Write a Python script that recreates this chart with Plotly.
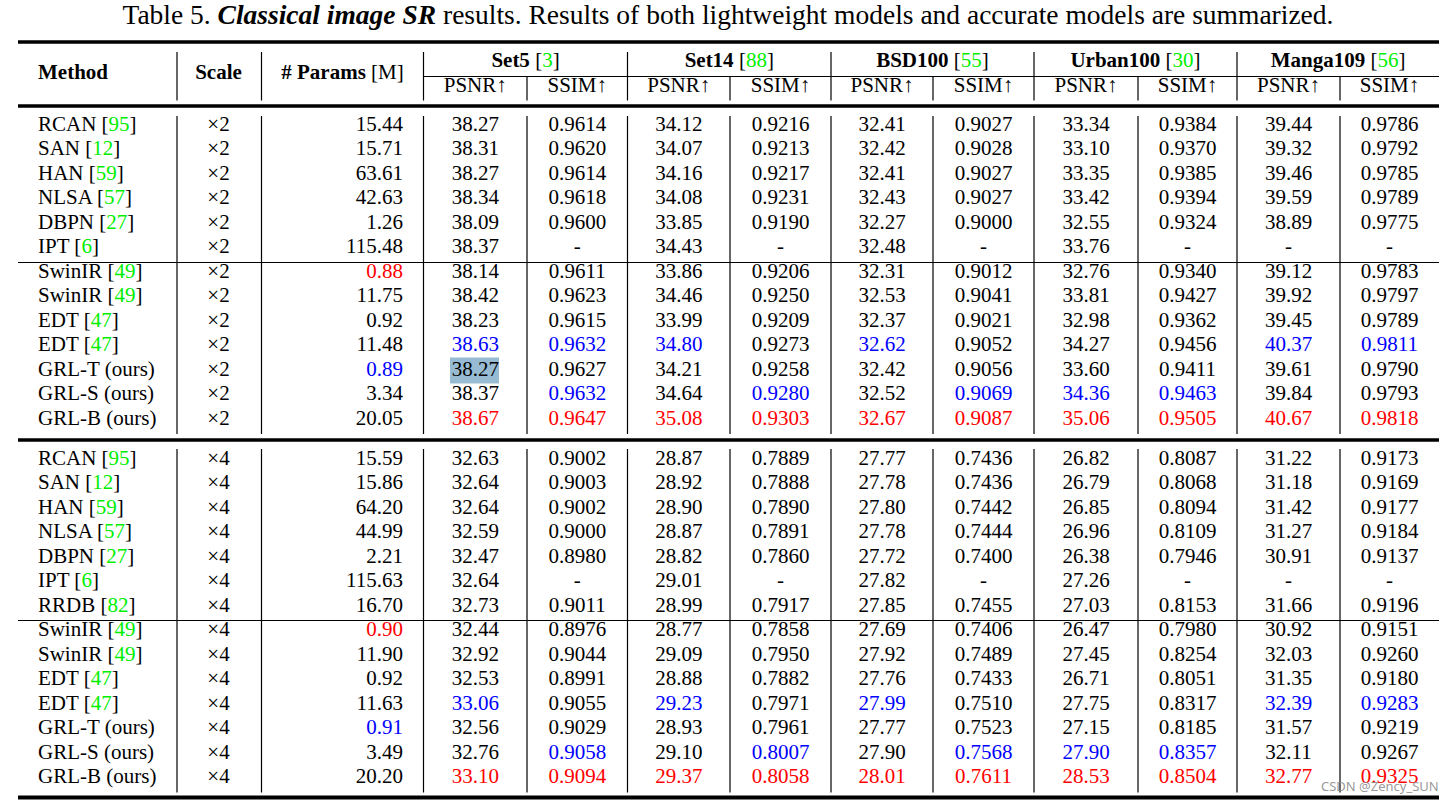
import plotly.graph_objects as go

# ---------------- data ----------------
caption = ("Table 5. <b><i>Classical image SR</i></b> results. Results of both lightweight "
           "models and accurate models are summarized.")
datasets = ["Set5", "Set14", "BSD100", "Urban100", "Manga109"]
dataset_refs = ["3", "88", "55", "30", "56"]
metrics = ["PSNR↑", "SSIM↑"]

methods_x2 = ["RCAN", "SAN", "HAN", "NLSA", "DBPN", "IPT", "SwinIR", "SwinIR", "EDT", "EDT",
              "GRL-T (ours)", "GRL-S (ours)", "GRL-B (ours)"]
refs_x2 = ["95", "12", "59", "57", "27", "6", "49", "49", "47", "47", "", "", ""]
params_x2 = ["15.44", "15.71", "63.61", "42.63", "1.26", "115.48", "0.88", "11.75", "0.92",
             "11.48", "0.89", "3.34", "20.05"]
scores_x2 = [
    ["38.27", "0.9614", "34.12", "0.9216", "32.41", "0.9027", "33.34", "0.9384", "39.44", "0.9786"],
    ["38.31", "0.9620", "34.07", "0.9213", "32.42", "0.9028", "33.10", "0.9370", "39.32", "0.9792"],
    ["38.27", "0.9614", "34.16", "0.9217", "32.41", "0.9027", "33.35", "0.9385", "39.46", "0.9785"],
    ["38.34", "0.9618", "34.08", "0.9231", "32.43", "0.9027", "33.42", "0.9394", "39.59", "0.9789"],
    ["38.09", "0.9600", "33.85", "0.9190", "32.27", "0.9000", "32.55", "0.9324", "38.89", "0.9775"],
    ["38.37", "-", "34.43", "-", "32.48", "-", "33.76", "-", "-", "-"],
    ["38.14", "0.9611", "33.86", "0.9206", "32.31", "0.9012", "32.76", "0.9340", "39.12", "0.9783"],
    ["38.42", "0.9623", "34.46", "0.9250", "32.53", "0.9041", "33.81", "0.9427", "39.92", "0.9797"],
    ["38.23", "0.9615", "33.99", "0.9209", "32.37", "0.9021", "32.98", "0.9362", "39.45", "0.9789"],
    ["38.63", "0.9632", "34.80", "0.9273", "32.62", "0.9052", "34.27", "0.9456", "40.37", "0.9811"],
    ["38.27", "0.9627", "34.21", "0.9258", "32.42", "0.9056", "33.60", "0.9411", "39.61", "0.9790"],
    ["38.37", "0.9632", "34.64", "0.9280", "32.52", "0.9069", "34.36", "0.9463", "39.84", "0.9793"],
    ["38.67", "0.9647", "35.08", "0.9303", "32.67", "0.9087", "35.06", "0.9505", "40.67", "0.9818"],
]
# colour codes: params + 10 scores (k black, r red/best, b blue/second)
colors_x2 = ["kkkkkkkkkkk", "kkkkkkkkkkk", "kkkkkkkkkkk", "kkkkkkkkkkk", "kkkkkkkkkkk",
             "kkkkkkkkkkk", "rkkkkkkkkkk", "kkkkkkkkkkk", "kkkkkkkkkkk", "kbbbkbkkkbb",
             "bkkkkkkkkkk", "kkbkbkbbbkk", "krrrrrrrrrr"]

methods_x4 = ["RCAN", "SAN", "HAN", "NLSA", "DBPN", "IPT", "RRDB", "SwinIR", "SwinIR", "EDT",
              "EDT", "GRL-T (ours)", "GRL-S (ours)", "GRL-B (ours)"]
refs_x4 = ["95", "12", "59", "57", "27", "6", "82", "49", "49", "47", "47", "", "", ""]
params_x4 = ["15.59", "15.86", "64.20", "44.99", "2.21", "115.63", "16.70", "0.90", "11.90",
             "0.92", "11.63", "0.91", "3.49", "20.20"]
scores_x4 = [
    ["32.63", "0.9002", "28.87", "0.7889", "27.77", "0.7436", "26.82", "0.8087", "31.22", "0.9173"],
    ["32.64", "0.9003", "28.92", "0.7888", "27.78", "0.7436", "26.79", "0.8068", "31.18", "0.9169"],
    ["32.64", "0.9002", "28.90", "0.7890", "27.80", "0.7442", "26.85", "0.8094", "31.42", "0.9177"],
    ["32.59", "0.9000", "28.87", "0.7891", "27.78", "0.7444", "26.96", "0.8109", "31.27", "0.9184"],
    ["32.47", "0.8980", "28.82", "0.7860", "27.72", "0.7400", "26.38", "0.7946", "30.91", "0.9137"],
    ["32.64", "-", "29.01", "-", "27.82", "-", "27.26", "-", "-", "-"],
    ["32.73", "0.9011", "28.99", "0.7917", "27.85", "0.7455", "27.03", "0.8153", "31.66", "0.9196"],
    ["32.44", "0.8976", "28.77", "0.7858", "27.69", "0.7406", "26.47", "0.7980", "30.92", "0.9151"],
    ["32.92", "0.9044", "29.09", "0.7950", "27.92", "0.7489", "27.45", "0.8254", "32.03", "0.9260"],
    ["32.53", "0.8991", "28.88", "0.7882", "27.76", "0.7433", "26.71", "0.8051", "31.35", "0.9180"],
    ["33.06", "0.9055", "29.23", "0.7971", "27.99", "0.7510", "27.75", "0.8317", "32.39", "0.9283"],
    ["32.56", "0.9029", "28.93", "0.7961", "27.77", "0.7523", "27.15", "0.8185", "31.57", "0.9219"],
    ["32.76", "0.9058", "29.10", "0.8007", "27.90", "0.7568", "27.90", "0.8357", "32.11", "0.9267"],
    ["33.10", "0.9094", "29.37", "0.8058", "28.01", "0.7611", "28.53", "0.8504", "32.77", "0.9325"],
]
colors_x4 = ["kkkkkkkkkkk", "kkkkkkkkkkk", "kkkkkkkkkkk", "kkkkkkkkkkk", "kkkkkkkkkkk",
             "kkkkkkkkkkk", "kkkkkkkkkkk", "rkkkkkkkkkk", "kkkkkkkkkkk", "kkkkkkkkkkk",
             "kbkbkbkkkbb", "bkkkkkkkkkk", "kkbkbkbbbkk", "krrrrrrrrrr"]

# ---------------- layout geometry ----------------
W, H = 1455, 803
FONT = "Liberation Serif"
FS = 21
GREEN = "#00ee00"
CMAP = {"k": "black", "r": "#ff0000", "b": "#0000ff"}

x_left, x_right = 18, 1439
major_v = [177, 261.5, 423.5, 627.5, 831, 1034, 1237]   # full-height separators
minor_v = [527, 730, 933, 1138, 1340]                  # PSNR | SSIM separators
ds_bounds = [423.5, 627.5, 831, 1034, 1237, 1439]
score_bounds = [423.5, 527, 627.5, 730, 831, 933, 1034, 1138, 1237, 1340, 1439]
score_x = [(score_bounds[i] + score_bounds[i + 1]) / 2 for i in range(10)]
method_x, scale_x, params_x = 38, 218.5, 403

pitch = 24.5
y0_x2, y0_x4 = 125.5, 459.5
rule_top, rule_head, rule_mid, rule_bot = 42, 106, 440, 797.5
thin_lines = [262.5, 620.5]
cmid_y = 76.5

fig = go.Figure()


def cite(name, ref):
    return f"{name} [<span style='color:{GREEN}'>{ref}</span>]" if ref else name


def add_section(methods, refs, scale, params, scores, colors, y0):
    ys = [y0 + pitch * i for i in range(len(methods))]
    fig.add_trace(go.Scatter(x=[method_x] * len(ys), y=ys, mode="text",
                             text=[cite(m, r) for m, r in zip(methods, refs)],
                             textposition="middle right",
                             textfont=dict(family=FONT, size=FS, color="black")))
    fig.add_trace(go.Scatter(x=[scale_x] * len(ys), y=ys, mode="text",
                             text=[scale] * len(ys), textposition="middle center",
                             textfont=dict(family=FONT, size=FS, color="black")))
    fig.add_trace(go.Scatter(x=[params_x] * len(ys), y=ys, mode="text", text=params,
                             textposition="middle left",
                             textfont=dict(family=FONT, size=FS,
                                           color=[CMAP[c[0]] for c in colors])))
    for j in range(10):
        fig.add_trace(go.Scatter(x=[score_x[j]] * len(ys), y=ys, mode="text",
                                 text=[row[j] for row in scores],
                                 textposition="middle center",
                                 textfont=dict(family=FONT, size=FS,
                                               color=[CMAP[c[j + 1]] for c in colors])))
    return ys


ys2 = add_section(methods_x2, refs_x2, "×2", params_x2, scores_x2, colors_x2, y0_x2)
ys4 = add_section(methods_x4, refs_x4, "×4", params_x4, scores_x4, colors_x4, y0_x4)

# header
head_y, ds_y, met_y = 73.5, 62, 86.5
fig.add_trace(go.Scatter(x=[method_x], y=[head_y], mode="text", text=["<b>Method</b>"],
                         textposition="middle right",
                         textfont=dict(family=FONT, size=FS, color="black")))
fig.add_trace(go.Scatter(x=[scale_x, (261.5 + 423.5) / 2], y=[head_y, head_y], mode="text",
                         text=["<b>Scale</b>", "<b># Params</b> [M]"],
                         textposition="middle center",
                         textfont=dict(family=FONT, size=FS, color="black")))
fig.add_trace(go.Scatter(x=[(ds_bounds[i] + ds_bounds[i + 1]) / 2 for i in range(5)],
                         y=[ds_y] * 5, mode="text",
                         text=[f"<b>{d}</b> [<span style='color:{GREEN}'>{r}</span>]"
                               for d, r in zip(datasets, dataset_refs)],
                         textposition="middle center",
                         textfont=dict(family=FONT, size=FS, color="black")))
fig.add_trace(go.Scatter(x=score_x, y=[met_y] * 10, mode="text",
                         text=metrics * 5, textposition="middle center",
                         textfont=dict(family=FONT, size=FS, color="black")))

# caption
fig.add_trace(go.Scatter(x=[728], y=[17.5], mode="text", text=[caption],
                         textposition="middle center",
                         textfont=dict(family=FONT, size=27.5, color="black")))

# ---------------- rules ----------------
shapes = []
for y, w in [(rule_top, 3.3), (rule_head, 3.3), (rule_mid, 3.3), (rule_bot, 4)]:
    shapes.append(dict(type="line", x0=x_left, x1=x_right, y0=y, y1=y,
                       line=dict(color="black", width=w)))
for y in thin_lines:
    shapes.append(dict(type="line", x0=x_left, x1=x_right, y0=y, y1=y,
                       line=dict(color="black", width=1.2)))
shapes.append(dict(type="line", x0=423.5, x1=x_right, y0=cmid_y, y1=cmid_y,
                   line=dict(color="black", width=1.2)))
for x in major_v:
    for a, b in [(52, 100.5), (116, 434), (449, 792.5)]:
        shapes.append(dict(type="line", x0=x, x1=x, y0=a, y1=b,
                           line=dict(color="black", width=1.2)))
for x in minor_v:
    for a, b in [(cmid_y, 100.5), (116, 434), (449, 792.5)]:
        shapes.append(dict(type="line", x0=x, x1=x, y0=a, y1=b,
                           line=dict(color="black", width=1.2)))
# selection highlight on GRL-T x2 Set5 PSNR
hy = ys2[10]
shapes.append(dict(type="rect", x0=450, x1=499, y0=hy - 13, y1=hy + 13, layer="below",
                   fillcolor="rgb(152,187,212)", line=dict(width=0)))

fig.update_layout(
    width=W, height=H, autosize=False,
    margin=dict(l=0, r=0, t=0, b=0, pad=0),
    paper_bgcolor="white", plot_bgcolor="white",
    showlegend=False, shapes=shapes,
    xaxis=dict(range=[0, W], visible=False, fixedrange=True),
    yaxis=dict(range=[H, 0], visible=False, fixedrange=True),
    annotations=[dict(x=1441, y=786, xref="x", yref="y", xanchor="right", yanchor="middle",
                      text="CSDN @Zency_SUN", showarrow=False,
                      font=dict(family="Noto Sans", size=13, color="rgba(140,140,140,0.9)"))],
)
fig.update_traces(hoverinfo="skip", cliponaxis=False)
fig.write_html("out.html", config={"displayModeBar": False, "staticPlot": True},
               post_script="document.body.style.margin='0';"
                           "document.body.style.overflow='hidden';")
